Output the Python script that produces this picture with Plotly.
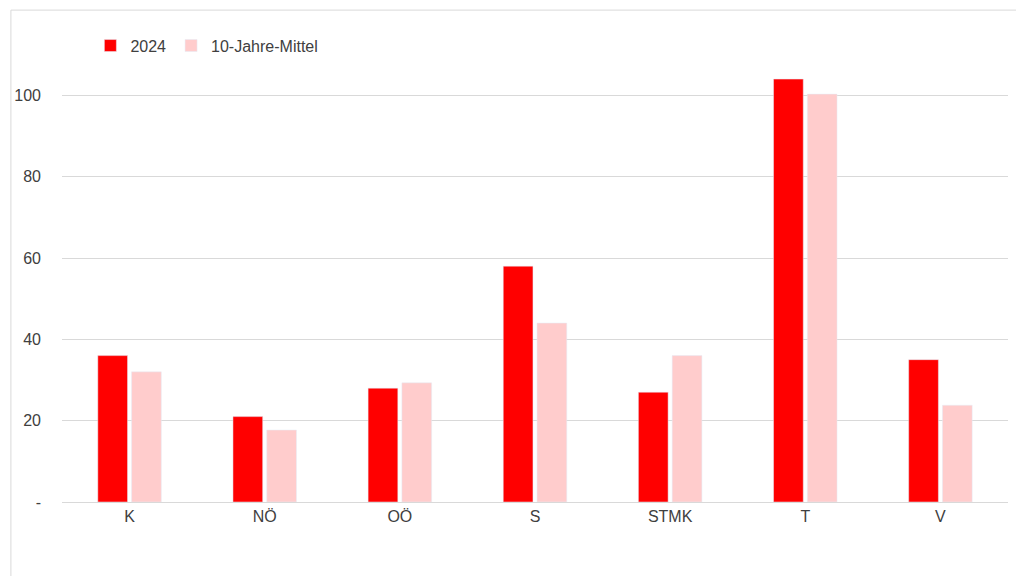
import plotly.graph_objects as go

categories = ["K", "NÖ", "OÖ", "S", "STMK", "T", "V"]
v2024 = [36, 21, 28, 58, 27, 104, 35]
mittel = [32, 17.7, 29.3, 44, 36, 100.3, 23.8]
tickvals = [0, 20, 40, 60, 80, 100, 120]
ticktext = ["-", "20", "40", "60", "80", "100", "120"]

fig = go.Figure()
fig.add_bar(x=categories, y=v2024, name="2024", marker_color="#FF0000")
fig.add_bar(x=categories, y=mittel, name="10-Jahre-Mittel", marker_color="#FFCCCC")
fig.update_layout(
    width=1024, height=576, barmode="group", bargap=0.5, bargroupgap=0.12,
    plot_bgcolor="white", paper_bgcolor="white",
    font=dict(family="Liberation Sans, Arial", size=16, color="#404040"),
    margin=dict(l=52, r=24, t=6, b=82),
    legend=dict(orientation="h", x=0.03, y=0.97, xanchor="left", yanchor="top",
                bgcolor="rgba(0,0,0,0)", font=dict(size=16), itemwidth=30),
    xaxis=dict(showline=True, linecolor="#d9d9d9", ticks=""),
    yaxis=dict(range=[0, 120], tickvals=tickvals, ticktext=ticktext,
               gridcolor="#d9d9d9", zeroline=False, ticklabelstandoff=20),
    shapes=[dict(type="rect", xref="paper", yref="paper", x0=-0.054, y0=-0.164, x1=1.016, y1=1.008,
                 line=dict(color="#d9d9d9", width=1))],
)
fig.write_html("out.html")
